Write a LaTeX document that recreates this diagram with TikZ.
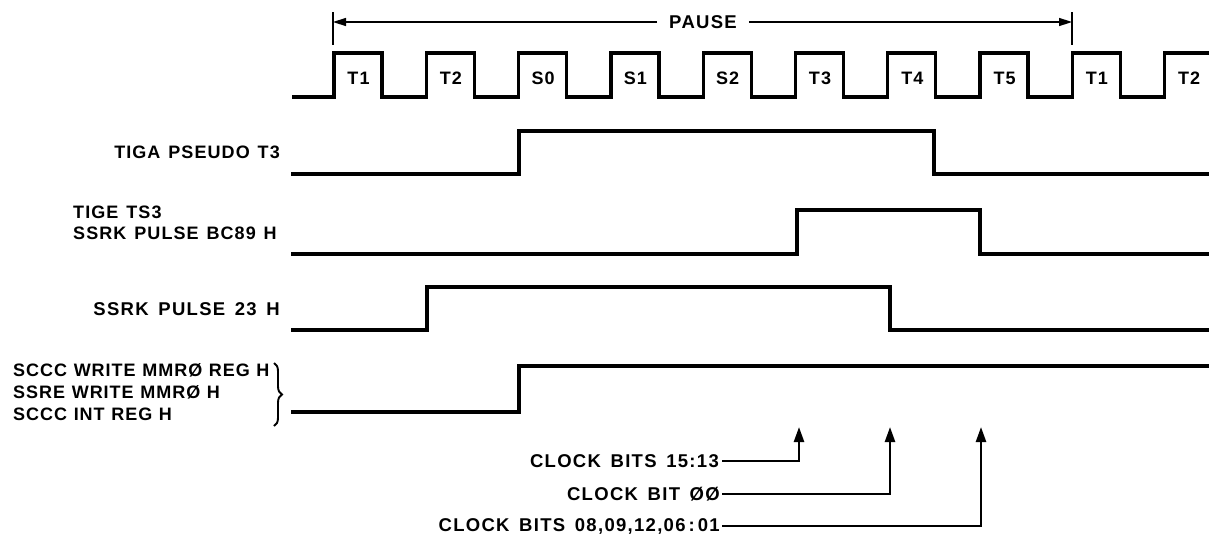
\documentclass[tikz,border=0pt]{standalone}
\usepackage{fontspec}
\newfontfamily\widefont[LetterSpace=7,WordSpace=1.5]{Liberation Sans}
\newfontfamily\midfont[LetterSpace=6,WordSpace=1.3]{Liberation Sans}
\newfontfamily\tightfont[LetterSpace=5.5,WordSpace=1.1]{Liberation Sans}
\usetikzlibrary{arrows.meta,decorations.pathreplacing}
\tikzset{
  lbl/.style={font=\widefont\bfseries\fontsize{18.5}{21}\selectfont, inner sep=0pt},
  lblm/.style={font=\midfont\bfseries\fontsize{18}{21}\selectfont, inner sep=0pt},
  lblt/.style={font=\tightfont\bfseries\fontsize{18}{21}\selectfont, inner sep=0pt},
  sig/.style={line width=3.3pt, line join=miter},
  thinln/.style={line width=1.6pt},
  arr/.style={line width=2.4pt, -{Triangle[length=15pt,width=10pt]}},
  parr/.style={line width=1.5pt, -{Triangle[length=13pt,width=8pt]}}
}
\begin{document}
\begin{tikzpicture}[x=1pt,y=-1pt]
\useasboundingbox (0,0) rectangle (1209,544);
% clock
\draw[sig] (292,97) foreach \i in {0,...,8} {
   -- ({334+92.3*\i},97) -- ({334+92.3*\i},53) -- ({382+92.3*\i},53) -- ({382+92.3*\i},97) }
   -- (1164.7,97) -- (1164.7,53) -- (1209,53);
\foreach \t [count=\k from 0] in {T1,T2,S0,S1,S2,T3,T4,T5,T1,T2}
  \node[lblm] (clk\k) at ({358.5+92.3*\k},78) {\t};
% pause
\node[lbl, inner xsep=12pt] (pause) at (703,22) {PAUSE};
\draw[thinln] (333,12) -- (333,45);
\draw[thinln] (1072,12) -- (1072,45);
\coordinate (lt) at (333,22);
\coordinate (rt) at (1072,22);
\draw[parr] (pause.west) -- (lt);
\draw[parr] (pause.east) -- (rt);
% signal labels
\node[lblm, anchor=east] (tiga) at (280,152) {TIGA PSEUDO T3};
\node[lblm, anchor=west] (tige1) at (73,212) {TIGE TS3};
\node[lblm, anchor=west] (tige2) at (73,233) {SSRK PULSE BC89 H};
\node[lbl, anchor=east] (ssrk) at (280,309) {SSRK PULSE 23 H};
\node[lblt, anchor=west] (sccc1) at (13,370) {SCCC WRITE MMRØ REG H};
\node[lblt, anchor=west] (ssre) at (13,392) {SSRE WRITE MMRØ H};
\node[lblt, anchor=west] (sccc2) at (13,414) {SCCC INT REG H};
\draw[line width=1.9pt, decorate, decoration={brace, amplitude=8pt}] (274,363) -- (274,426);
% signals
\draw[sig] (291,174) -- (519,174) -- (519,131) -- (934,131) -- (934,174) -- (1209,174);
\draw[sig] (291,254) -- (797,254) -- (797,210) -- (980,210) -- (980,254) -- (1209,254);
\draw[sig] (291,330) -- (427,330) -- (427,287) -- (890,287) -- (890,330) -- (1209,330);
\draw[sig] (291,412) -- (519,412) -- (519,366) -- (1209,366);
% clock bits
\coordinate (a1) at (799,427);
\coordinate (a2) at (890,427);
\coordinate (a3) at (981,427);
\node[lbl, anchor=east, inner xsep=3pt] (cb1) at (722,461) {CLOCK BITS 15:13};
\node[lbl, anchor=east, inner xsep=2pt] (cb2) at (722,494) {CLOCK BIT ØØ};
\node[lbl, anchor=east, inner xsep=2pt] (cb3) at (722,526) {CLOCK BITS 08,09,12,06\,:\,01};
\draw[arr] (cb1.east) -| (a1);
\draw[arr] (cb2.east) -| (a2);
\draw[arr] (cb3.east) -| (a3);
\end{tikzpicture}
\end{document}
